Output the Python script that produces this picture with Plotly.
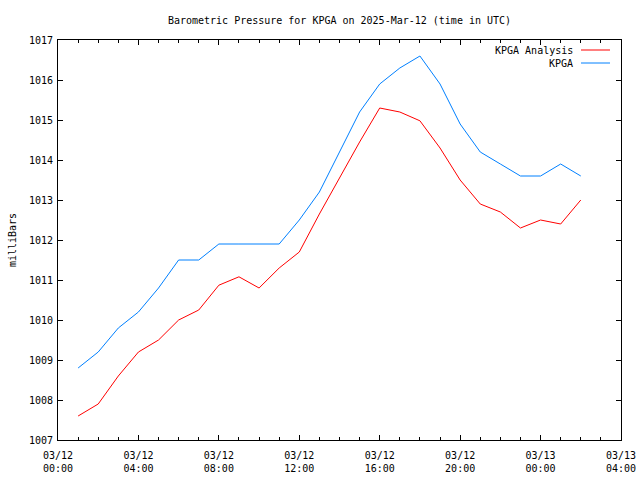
import plotly.graph_objects as go

times = [
    "2025-03-12 01:00", "2025-03-12 02:00", "2025-03-12 03:00", "2025-03-12 04:00",
    "2025-03-12 05:00", "2025-03-12 06:00", "2025-03-12 07:00", "2025-03-12 08:00",
    "2025-03-12 09:00", "2025-03-12 10:00", "2025-03-12 11:00", "2025-03-12 12:00",
    "2025-03-12 13:00", "2025-03-12 14:00", "2025-03-12 15:00", "2025-03-12 16:00",
    "2025-03-12 17:00", "2025-03-12 18:00", "2025-03-12 19:00", "2025-03-12 20:00",
    "2025-03-12 21:00", "2025-03-12 22:00", "2025-03-12 23:00", "2025-03-13 00:00",
    "2025-03-13 01:00", "2025-03-13 02:00",
]
analysis = [1007.6, 1007.9, 1008.6, 1009.2, 1009.5, 1010.0, 1010.25, 1010.87,
            1011.08, 1010.8, 1011.3, 1011.7, 1012.65, 1013.55, 1014.45, 1015.3,
            1015.2, 1014.98, 1014.3, 1013.5, 1012.9, 1012.7, 1012.3, 1012.5,
            1012.4, 1013.0]
observed = [1008.8, 1009.2, 1009.8, 1010.2, 1010.8, 1011.5, 1011.5, 1011.9,
            1011.9, 1011.9, 1011.9, 1012.5, 1013.2, 1014.2, 1015.2, 1015.9,
            1016.3, 1016.6, 1015.9, 1014.9, 1014.2, 1013.9, 1013.6, 1013.6,
            1013.9, 1013.6]
series_names = ["KPGA Analysis", "KPGA"]
series_colors = ["#ff0000", "#0080ff"]

tick_vals = ["2025-03-12 00:00", "2025-03-12 04:00", "2025-03-12 08:00", "2025-03-12 12:00",
             "2025-03-12 16:00", "2025-03-12 20:00", "2025-03-13 00:00", "2025-03-13 04:00"]
tick_text = ["03/12<br>00:00", "03/12<br>04:00", "03/12<br>08:00", "03/12<br>12:00",
             "03/12<br>16:00", "03/12<br>20:00", "03/13<br>00:00", "03/13<br>04:00"]
y_ticks = [1007, 1008, 1009, 1010, 1011, 1012, 1013, 1014, 1015, 1016, 1017]

FONT = "DejaVu Sans Mono"
FS = 10

fig = go.Figure()
for name, vals, col in zip(series_names, [analysis, observed], series_colors):
    fig.add_trace(go.Scatter(x=times, y=vals, mode="lines", name=name,
                             line=dict(color=col, width=1)))

fig.update_layout(
    width=640, height=480,
    margin=dict(l=58, r=19, t=40, b=40, autoexpand=False),
    paper_bgcolor="white", plot_bgcolor="white",
    showlegend=False,
    font=dict(family=FONT, size=FS, color="black"),
    title=dict(text="Barometric Pressure for KPGA on 2025-Mar-12 (time in UTC)",
               x=0.5, xanchor="center", xref="paper",
               y=1 - 20 / 480, yanchor="middle", yref="container",
               font=dict(family=FONT, size=FS, color="black")),
)
fig.update_xaxes(
    type="date",
    range=["2025-03-12 00:00", "2025-03-13 04:00"],
    tickvals=tick_vals, ticktext=tick_text,
    ticks="inside", ticklen=5, tickcolor="black", tickwidth=1,
    minor=dict(dtick=3600000, ticks="inside", ticklen=3, tickcolor="black", showgrid=False),
    showline=True, linecolor="black", linewidth=1, mirror="ticks",
    showgrid=False, zeroline=False, automargin=False,
    ticklabelstandoff=6,
    tickfont=dict(family=FONT, size=FS),
)
fig.update_yaxes(
    range=[1007, 1017],
    tickvals=y_ticks,
    ticks="inside", ticklen=5, tickcolor="black", tickwidth=1,
    showline=True, linecolor="black", linewidth=1, mirror="ticks",
    showgrid=False, zeroline=False, automargin=False,
    ticklabelstandoff=2,
    title=dict(text="milliBars", standoff=10, font=dict(family=FONT, size=FS)),
    tickfont=dict(family=FONT, size=FS),
)

# legend (gnuplot style: text right-aligned, sample line to the right)
for i, (name, col) in enumerate(zip(series_names, series_colors)):
    yp = 1 - (10 + 13 * i) / 400
    fig.add_annotation(xref="paper", yref="paper", x=(575 - 58) / 563, y=yp,
                       text=name, showarrow=False, xanchor="right", yanchor="middle",
                       font=dict(family=FONT, size=FS, color="black"))
    fig.add_shape(type="line", xref="paper", yref="paper",
                  x0=(581 - 58) / 563, x1=(610 - 58) / 563, y0=yp, y1=yp,
                  line=dict(color=col, width=1))

fig.write_html("out.html", config={"displayModeBar": False},
               post_script="document.body.style.margin='0';document.body.style.overflow='hidden';")
